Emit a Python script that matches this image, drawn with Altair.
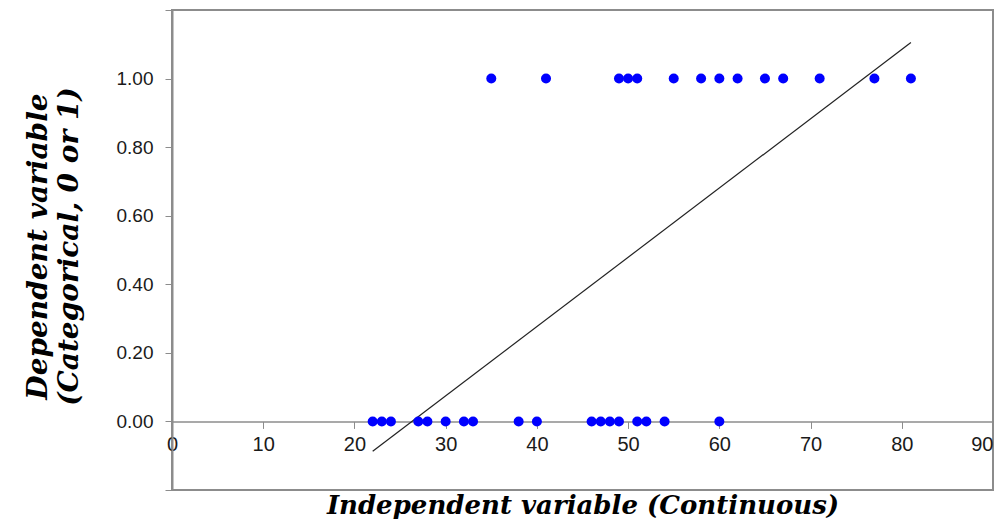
import altair as alt
import pandas as pd

# Observations with outcome 0
x_zero = [22, 23, 24, 27, 28, 30, 32, 33, 38, 40, 46, 47, 48, 49, 51, 52, 54, 60]
# Observations with outcome 1
x_one = [35, 41, 49, 50, 51, 55, 58, 60, 62, 65, 67, 71, 77, 81]

# Fitted linear trend line (endpoints)
line_x = [22, 81]
line_y = [-0.087, 1.105]

pts = pd.DataFrame({
    "x": x_zero + x_one,
    "y": [0.0] * len(x_zero) + [1.0] * len(x_one),
})
fit = pd.DataFrame({"x": line_x, "y": line_y})

serif = "DejaVu Serif"
sans = "Liberation Sans"

xscale = alt.Scale(domain=[0, 90], nice=False, zero=False)
yscale = alt.Scale(domain=[-0.2, 1.2], nice=False, zero=False)

xaxis = alt.Axis(
    values=[0, 10, 20, 30, 40, 50, 60, 70, 80, 90],
    offset=-68.57,
    grid=False,
    domainColor="#8c8c8c",
    domainWidth=1.5,
    tickColor="#8c8c8c",
    tickSize=7,
    labelFont=sans,
    labelFontSize=20,
    labelColor="#1a1a1a",
    labelPadding=6,
    labelFlush=False,
    labelOverlap=False,
    labelAlign={"condition": {"test": "datum.value >= 90", "value": "right"}, "value": "center"},
    title="Independent variable (Continuous)",
    titleFont=serif,
    titleFontSize=26,
    titleFontStyle="italic",
    titleFontWeight="bold",
    titleColor="#000000",
    titleY=92,
    titleBaseline="alphabetic",
)

yaxis = alt.Axis(
    values=[-0.2, 0, 0.2, 0.4, 0.6, 0.8, 1.0, 1.2],
    format=".2f",
    labelExpr="(datum.value < -0.01 || datum.value > 1.01) ? '' : datum.label",
    grid=False,
    domainColor="#8c8c8c",
    domainWidth=2,
    tickColor="#8c8c8c",
    tickSize=7,
    labelFont=sans,
    labelFontSize=19,
    labelColor="#1a1a1a",
    labelPadding=12,
    title=["Dependent variable", "(Categorical, 0 or 1)"],
    titleFont=serif,
    titleFontSize=28,
    titleFontStyle="italic",
    titleFontWeight="bold",
    titleColor="#000000",
    titleAngle=-90,
    titleX=-126,
    titleY=236,
    titleAlign="center",
    titleBaseline="alphabetic",
    titleLineHeight=31,
)

points = alt.Chart(pts).mark_circle(size=100, color="#0000FF", opacity=1).encode(
    x=alt.X("x:Q", scale=xscale, axis=xaxis),
    y=alt.Y("y:Q", scale=yscale, axis=yaxis),
)

line = alt.Chart(fit).mark_line(color="#222222", strokeWidth=1.2).encode(
    x=alt.X("x:Q", scale=xscale),
    y=alt.Y("y:Q", scale=yscale),
)

chart = (
    alt.layer(line, points)
    .properties(
        width=821,
        height=480,
        autosize=alt.AutoSizeParams(type="none"),
        padding={"left": 164, "top": 2, "right": 1, "bottom": 33},
        background="white",
    )
    .configure_view(stroke="#8c8c8c", strokeWidth=2)
)

chart.save("out.html", embed_options={"renderer": "svg", "actions": False})
